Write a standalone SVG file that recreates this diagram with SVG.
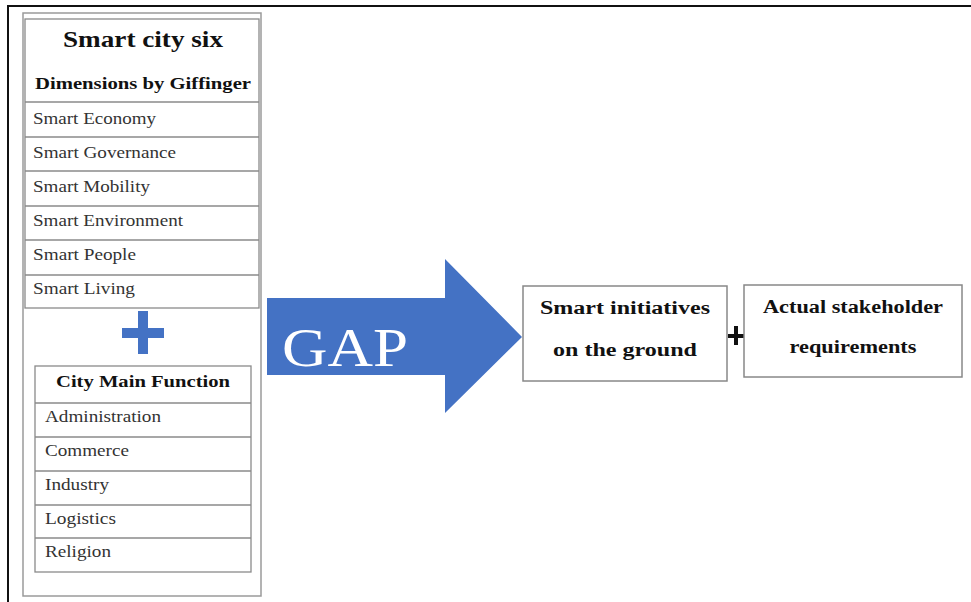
<svg xmlns="http://www.w3.org/2000/svg" width="971" height="602" viewBox="0 0 971 602">
<style>
.frame{fill:none;stroke:#111;stroke-width:2}
.panel{fill:#fff;stroke:#9a9a9a;stroke-width:1.5}
.tbl{fill:#fff;stroke:#8a8a8a;stroke-width:1.3}
.ln{stroke:#8a8a8a;stroke-width:1.3}
.row{font-family:"Liberation Serif","Times New Roman",serif;font-size:17px;fill:#333}
.hd{font-family:"Liberation Serif","Times New Roman",serif;font-weight:bold;fill:#111;text-anchor:middle}
.gap{font-family:"Liberation Serif","Times New Roman",serif;font-size:55px;fill:#fff}
.box{fill:#fff;stroke:#888;stroke-width:1.5}
.blue{fill:#4472c4}
</style>
<rect width="971" height="602" fill="#fff"/>
<path class="frame" d="M8,602 V6 H971"/>
<g id="left-panel">
<rect class="panel" x="23" y="13" width="238" height="583"/>
</g>
<g id="giffinger-table">
<rect class="tbl" x="25" y="19" width="234" height="289"/>
<text class="hd" x="143" y="47" font-size="24" textLength="160" lengthAdjust="spacingAndGlyphs">Smart city six</text>
<text class="hd" x="143" y="89" font-size="17" textLength="216" lengthAdjust="spacingAndGlyphs">Dimensions by Giffinger</text>
<line class="ln" x1="25" y1="102" x2="259" y2="102"/>
<line class="ln" x1="25" y1="137" x2="259" y2="137"/>
<line class="ln" x1="25" y1="171" x2="259" y2="171"/>
<line class="ln" x1="25" y1="206" x2="259" y2="206"/>
<line class="ln" x1="25" y1="240" x2="259" y2="240"/>
<line class="ln" x1="25" y1="275" x2="259" y2="275"/>
<text class="row" x="33" y="124" textLength="123" lengthAdjust="spacingAndGlyphs">Smart Economy</text>
<text class="row" x="33" y="158" textLength="143" lengthAdjust="spacingAndGlyphs">Smart Governance</text>
<text class="row" x="33" y="192" textLength="117" lengthAdjust="spacingAndGlyphs">Smart Mobility</text>
<text class="row" x="33" y="226" textLength="150" lengthAdjust="spacingAndGlyphs">Smart Environment</text>
<text class="row" x="33" y="260" textLength="103" lengthAdjust="spacingAndGlyphs">Smart People</text>
<text class="row" x="33" y="294" textLength="102" lengthAdjust="spacingAndGlyphs">Smart Living</text>
</g>
<g id="blue-plus">
<rect class="blue" x="122" y="328" width="42" height="10"/>
<rect class="blue" x="138" y="311" width="10" height="43"/>
</g>
<g id="function-table">
<rect class="tbl" x="35" y="366" width="216" height="206"/>
<text class="hd" x="143" y="387" font-size="17" textLength="174" lengthAdjust="spacingAndGlyphs">City Main Function</text>
<line class="ln" x1="35" y1="403" x2="251" y2="403"/>
<line class="ln" x1="35" y1="437" x2="251" y2="437"/>
<line class="ln" x1="35" y1="471" x2="251" y2="471"/>
<line class="ln" x1="35" y1="505" x2="251" y2="505"/>
<line class="ln" x1="35" y1="538" x2="251" y2="538"/>
<text class="row" x="45" y="422" textLength="116" lengthAdjust="spacingAndGlyphs">Administration</text>
<text class="row" x="45" y="456" textLength="84" lengthAdjust="spacingAndGlyphs">Commerce</text>
<text class="row" x="45" y="490" textLength="64" lengthAdjust="spacingAndGlyphs">Industry</text>
<text class="row" x="45" y="524" textLength="71" lengthAdjust="spacingAndGlyphs">Logistics</text>
<text class="row" x="45" y="557" textLength="66" lengthAdjust="spacingAndGlyphs">Religion</text>
</g>
<g id="gap-arrow">
<polygon class="blue" points="267,298 445,298 445,259 522,337 445,413 445,375 267,375"/>
<text class="gap" x="282" y="366" textLength="126" lengthAdjust="spacingAndGlyphs">GAP</text>
</g>
<g id="smart-initiatives">
<rect class="box" x="523" y="286" width="204" height="95"/>
<text class="hd" x="625" y="314" font-size="18" textLength="170" lengthAdjust="spacingAndGlyphs">Smart initiatives</text>
<text class="hd" x="625" y="356" font-size="18" textLength="144" lengthAdjust="spacingAndGlyphs">on the ground</text>
</g>
<g id="black-plus">
<rect x="728" y="334" width="16" height="4" fill="#111"/>
<rect x="734" y="326" width="4" height="19" fill="#111"/>
</g>
<g id="stakeholder-requirements">
<rect class="box" x="744" y="285" width="218" height="92"/>
<text class="hd" x="853" y="313" font-size="18" textLength="180" lengthAdjust="spacingAndGlyphs">Actual stakeholder</text>
<text class="hd" x="853" y="353" font-size="18" textLength="127" lengthAdjust="spacingAndGlyphs">requirements</text>
</g>
<g id="connectors"></g>
</svg>
